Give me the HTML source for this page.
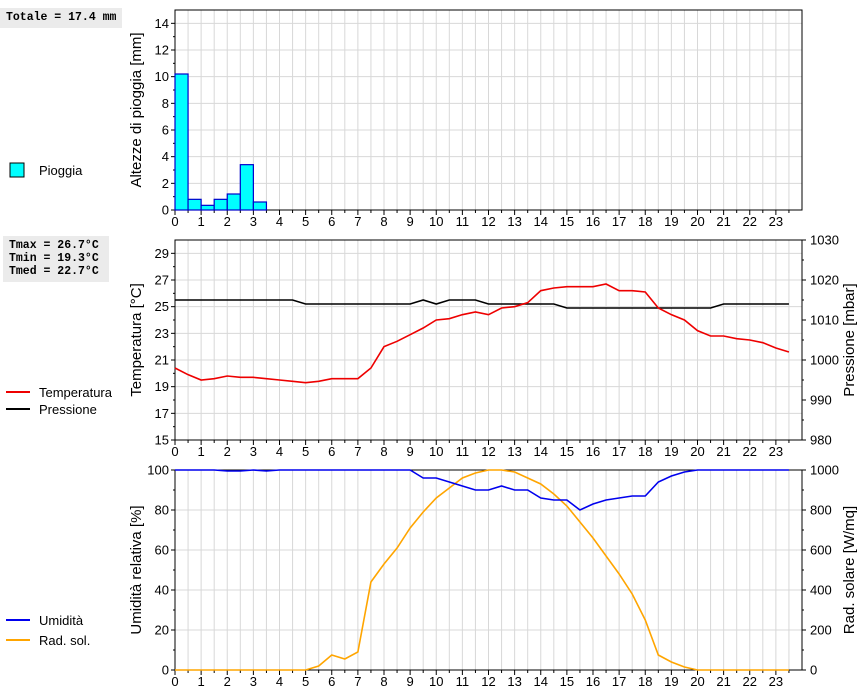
<!DOCTYPE html>
<html><head><meta charset="utf-8"><style>
body{margin:0;background:#fff;width:860px;height:690px;overflow:hidden;font-family:"Liberation Sans",sans-serif}
svg{display:block}
</style></head><body>
<svg id="c" width="860" height="690" xmlns="http://www.w3.org/2000/svg"></svg>
<script>
const hours=[];for(let i=0;i<48;i++)hours.push(i*0.5);
const rainHours=[0,0.5,1,1.5,2,2.5,3];
const rainValues=[10.2,0.8,0.35,0.8,1.2,3.4,0.6];
const tempValues=[20.4,19.9,19.5,19.6,19.8,19.7,19.7,19.6,19.5,19.4,19.3,19.4,19.6,19.6,19.6,20.4,22.0,22.4,22.9,23.4,24.0,24.1,24.4,24.6,24.4,24.9,25.0,25.3,26.2,26.4,26.5,26.5,26.5,26.7,26.2,26.2,26.1,24.9,24.4,24.0,23.2,22.8,22.8,22.6,22.5,22.3,21.9,21.6];
const pressValues=[1015,1015,1015,1015,1015,1015,1015,1015,1015,1015,1014,1014,1014,1014,1014,1014,1014,1014,1014,1015,1014,1015,1015,1015,1014,1014,1014,1014,1014,1014,1013,1013,1013,1013,1013,1013,1013,1013,1013,1013,1013,1013,1014,1014,1014,1014,1014,1014];
const humValues=[100,100,100,100,99.5,99.5,100,99.5,100,100,100,100,100,100,100,100,100,100,100,96,96,94,92,90,90,92,90,90,86,85,85,80,83,85,86,87,87,94,97,99,100,100,100,100,100,100,100,100];
const radValues=[0,0,0,0,0,0,0,0,0,0,0,20,75,55,90,440,530,610,710,790,860,910,960,985,1000,1000,990,960,930,880,820,740,660,570,480,380,250,75,40,15,0,0,0,0,0,0,0,0];
const xTicks=[0,1,2,3,4,5,6,7,8,9,10,11,12,13,14,15,16,17,18,19,20,21,22,23];
const rainTicks=[0,2,4,6,8,10,12,14];
const tempTicks=[15,17,19,21,23,25,27,29];
const pressTicks=[980,990,1000,1010,1020,1030];
const humTicks=[0,20,40,60,80,100];
const radTicks=[0,200,400,600,800,1000];

const svg=document.getElementById('c');const NS='http://www.w3.org/2000/svg';
function el(t,a,p){const e=document.createElementNS(NS,t);for(const k in a)e.setAttribute(k,a[k]);(p||svg).appendChild(e);return e;}
const X0=175,X1=802,PX=(802-175)/24;
const xs=h=>X0+h*PX;
function scale(d0,d1,top,bot){return v=>bot-(v-d0)/(d1-d0)*(bot-top);}
function panel(name,top,bot,ly,lTicks,ry,rTicks,leftTitle,rightTitle){
  const g=el('g',{});
  for(let h=0.5;h<23.9;h+=0.5)el('line',{x1:xs(h),x2:xs(h),y1:top,y2:bot,stroke:'#d8d8d8'},g);
  lTicks.forEach(v=>{const y=ly(v);if(y>top+1&&y<bot-1)el('line',{x1:X0,x2:X1,y1:y,y2:y,stroke:'#d8d8d8'},g);});
  el('rect',{x:X0,y:top,width:X1-X0,height:bot-top,fill:'none',stroke:'#000'},g);
  const step=lTicks[1]-lTicks[0];
  lTicks.forEach(v=>{const y=ly(v);el('line',{x1:X0-4,x2:X0,y1:y,y2:y,stroke:'#000'},g);
    const t=el('text',{x:X0-6,y:y+4.5,'text-anchor':'end','font-size':13},g);t.textContent=v;
    const ym=ly(v+step/2);if(ym>top)el('line',{x1:X0-2,x2:X0,y1:ym,y2:ym,stroke:'#000'},g);});
  xTicks.forEach(h=>{el('line',{x1:xs(h),x2:xs(h),y1:bot,y2:bot+5,stroke:'#000'},g);
    const t=el('text',{x:xs(h),y:bot+16,'text-anchor':'middle','font-size':13},g);t.textContent=h;
    el('line',{x1:xs(h+0.5),x2:xs(h+0.5),y1:bot,y2:bot+3,stroke:'#000'},g);});
  const lt=el('text',{transform:`translate(141 ${(top+bot)/2}) rotate(-90)`,'text-anchor':'middle','font-size':15},g);lt.textContent=leftTitle;
  if(ry){const rs=rTicks[1]-rTicks[0];
    rTicks.forEach(v=>{const y=ry(v);el('line',{x1:X1,x2:X1+4,y1:y,y2:y,stroke:'#000'},g);
      const t=el('text',{x:X1+8,y:y+4.5,'font-size':13},g);t.textContent=v;
      const ym=ry(v+rs/2);if(ym>top)el('line',{x1:X1,x2:X1+2,y1:ym,y2:ym,stroke:'#000'},g);});
    const rt=el('text',{transform:`translate(858 ${(top+bot)/2}) rotate(-90)`,'text-anchor':'middle','font-size':15,'dominant-baseline':'text-after-edge'},g);rt.textContent=rightTitle;}
  return g;
}
function line(vals,ys,color,name){const p=el('polyline',{points:vals.map((v,i)=>xs(hours[i])+','+ys(v)).join(' '),fill:'none',stroke:color,'stroke-width':1.6});
  }
const yr=scale(0,15,10,210);
panel('rain-panel',10,210,yr,rainTicks,null,null,'Altezze di pioggia [mm]');
rainValues.forEach((v,i)=>{const r=el('rect',{x:xs(rainHours[i]),y:yr(v),width:PX/2,height:210-yr(v),fill:'#00ffff',stroke:'#0000cc','stroke-width':1.2});
  });
const yt=scale(15,30,240,440),yp=scale(980,1030,240,440);
panel('temp-panel',240,440,yt,tempTicks,yp,pressTicks,'Temperatura [°C]','Pressione [mbar]');
line(pressValues,yp,'#000','pressure-line');
line(tempValues,yt,'#ee0000','temperature-line');
const yh=scale(0,100,470,670),ys=scale(0,1000,470,670);
panel('humidity-panel',470,670,yh,humTicks,ys,radTicks,'Umidità relativa [%]','Rad. solare [W/mq]');
line(radValues,ys,'#ffa500','radiation-line');
line(humValues,yh,'#0000ee','humidity-line');
function box(name,x,y,w,h,lines){const g=el('g',{});
  el('rect',{x:x,y:y,width:w,height:h,fill:'#ebebeb'},g);
  lines.forEach((s,i)=>{const t=el('text',{x:x+6,y:y+12+i*13,'font-size':11.5,'font-weight':'bold','font-family':'Liberation Mono, monospace'},g);t.textContent=s;});}
box('total-rain-box',0,8,122,20,['Totale = 17.4 mm']);
box('temp-stats-box',3,236,106,46,['Tmax = 26.7°C','Tmin = 19.3°C','Tmed = 22.7°C']);
function leg(name,y,label,color,sq){const g=el('g',{});
  if(sq)el('rect',{x:10,y:y-7,width:14,height:14,fill:'#00ffff',stroke:'#000'},g);
  else el('line',{x1:6,x2:30,y1:y,y2:y,stroke:color,'stroke-width':2},g);
  const t=el('text',{x:39,y:y+5,'font-size':13},g);t.textContent=label;}
leg('legend-pioggia',170,'Pioggia',null,true);
leg('legend-temperatura',392,'Temperatura','#ee0000');
leg('legend-pressione',409,'Pressione','#000');
leg('legend-umidita',620,'Umidità','#0000ee');
leg('legend-rad-sol',640,'Rad. sol.','#ffa500');
</script>
</body></html>
